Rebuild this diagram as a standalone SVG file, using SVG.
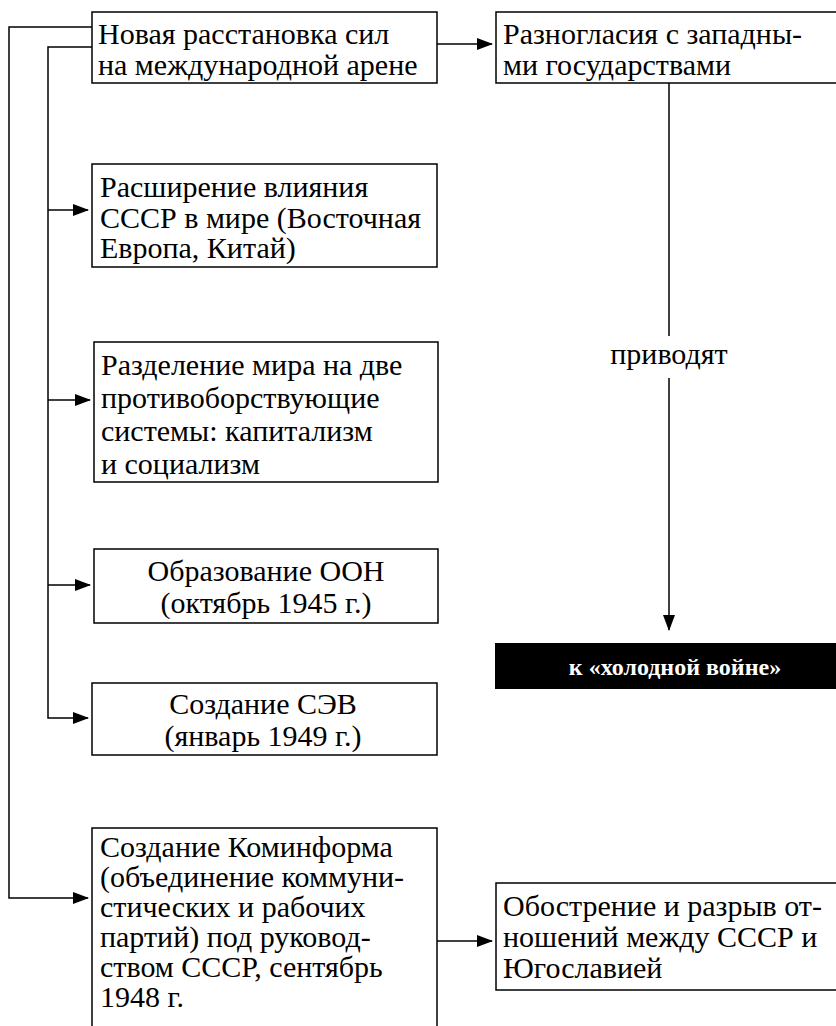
<svg xmlns="http://www.w3.org/2000/svg" width="836" height="1026" viewBox="0 0 836 1026">
<style>
.box{fill:#fff;stroke:#000;stroke-width:1.5}
.ln{fill:none;stroke:#000;stroke-width:1.5}
.t{font-family:"Liberation Serif","Times New Roman",serif;font-size:30px;fill:#000}
.c{text-anchor:middle}
.w{font-family:"Liberation Serif","Times New Roman",serif;font-size:24px;font-weight:bold;fill:#fff;text-anchor:middle}
</style>
<defs>
<marker id="ah" markerWidth="16" markerHeight="12" refX="15" refY="6" orient="auto" markerUnits="userSpaceOnUse">
<path d="M0,0 L16,6 L0,12 Z" fill="#000"/>
</marker>
</defs>
<rect width="836" height="1026" fill="#fff"/>
<g id="connectors">
<polyline class="ln" points="92,27 9,27 9,898 88,898" marker-end="url(#ah)"/>
<polyline class="ln" points="92,47 48,47 48,718 88,718" marker-end="url(#ah)"/>
<line class="ln" x1="48" y1="210" x2="88" y2="210" marker-end="url(#ah)"/>
<line class="ln" x1="48" y1="400" x2="90" y2="400" marker-end="url(#ah)"/>
<line class="ln" x1="48" y1="585" x2="90" y2="585" marker-end="url(#ah)"/>
<line class="ln" x1="437" y1="44" x2="492" y2="44" marker-end="url(#ah)"/>
<line class="ln" x1="669" y1="83" x2="669" y2="336"/>
<line class="ln" x1="669" y1="378" x2="669" y2="630" marker-end="url(#ah)"/>
<line class="ln" x1="437" y1="941" x2="492" y2="941" marker-end="url(#ah)"/>
</g>
<g id="n1"><rect class="box" x="92" y="12" width="345" height="71"/>
<text class="t" x="98" y="44">Новая расстановка сил</text>
<text class="t" x="98" y="75">на международной арене</text></g>
<g id="n2"><rect class="box" x="496" y="12" width="350" height="71"/>
<text class="t" x="503" y="44">Разногласия с западны-</text>
<text class="t" x="503" y="75">ми государствами</text></g>
<g id="n3"><rect class="box" x="92" y="164" width="345" height="103"/>
<text class="t" x="100" y="197">Расширение влияния</text>
<text class="t" x="100" y="228">СССР в мире (Восточная</text>
<text class="t" x="100" y="258">Европа, Китай)</text></g>
<g id="n4"><rect class="box" x="94" y="342" width="344" height="140"/>
<text class="t" x="101" y="375">Разделение мира на две</text>
<text class="t" x="101" y="408">противоборствующие</text>
<text class="t" x="101" y="441">системы: капитализм</text>
<text class="t" x="101" y="474">и социализм</text></g>
<g id="n5"><rect class="box" x="94" y="549" width="344" height="74"/>
<text class="t c" x="266" y="581">Образование ООН</text>
<text class="t c" x="266" y="613">(октябрь 1945 г.)</text></g>
<g id="n6"><rect class="box" x="92" y="683" width="345" height="72"/>
<text class="t c" x="263" y="714">Создание СЭВ</text>
<text class="t c" x="263" y="746">(январь 1949 г.)</text></g>
<g id="n7"><rect class="box" x="92" y="828" width="345" height="210"/>
<text class="t" x="100" y="857">Создание Коминформа</text>
<text class="t" x="100" y="887">(объединение коммуни-</text>
<text class="t" x="100" y="917">стических и рабочих</text>
<text class="t" x="100" y="947">партий) под руковод-</text>
<text class="t" x="100" y="977">ством СССР, сентябрь</text>
<text class="t" x="100" y="1007">1948 г.</text></g>
<g id="n8"><rect class="box" x="496" y="883" width="350" height="107"/>
<text class="t" x="503" y="916">Обострение и разрыв от-</text>
<text class="t" x="503" y="947">ношений между СССР и</text>
<text class="t" x="503" y="978">Югославией</text></g>
<g id="n9"><text class="t c" x="669" y="364">приводят</text></g>
<g id="n10"><rect x="495" y="643" width="345" height="46" fill="#000"/>
<text class="w" x="675" y="675">к «холодной войне»</text></g>
</svg>
